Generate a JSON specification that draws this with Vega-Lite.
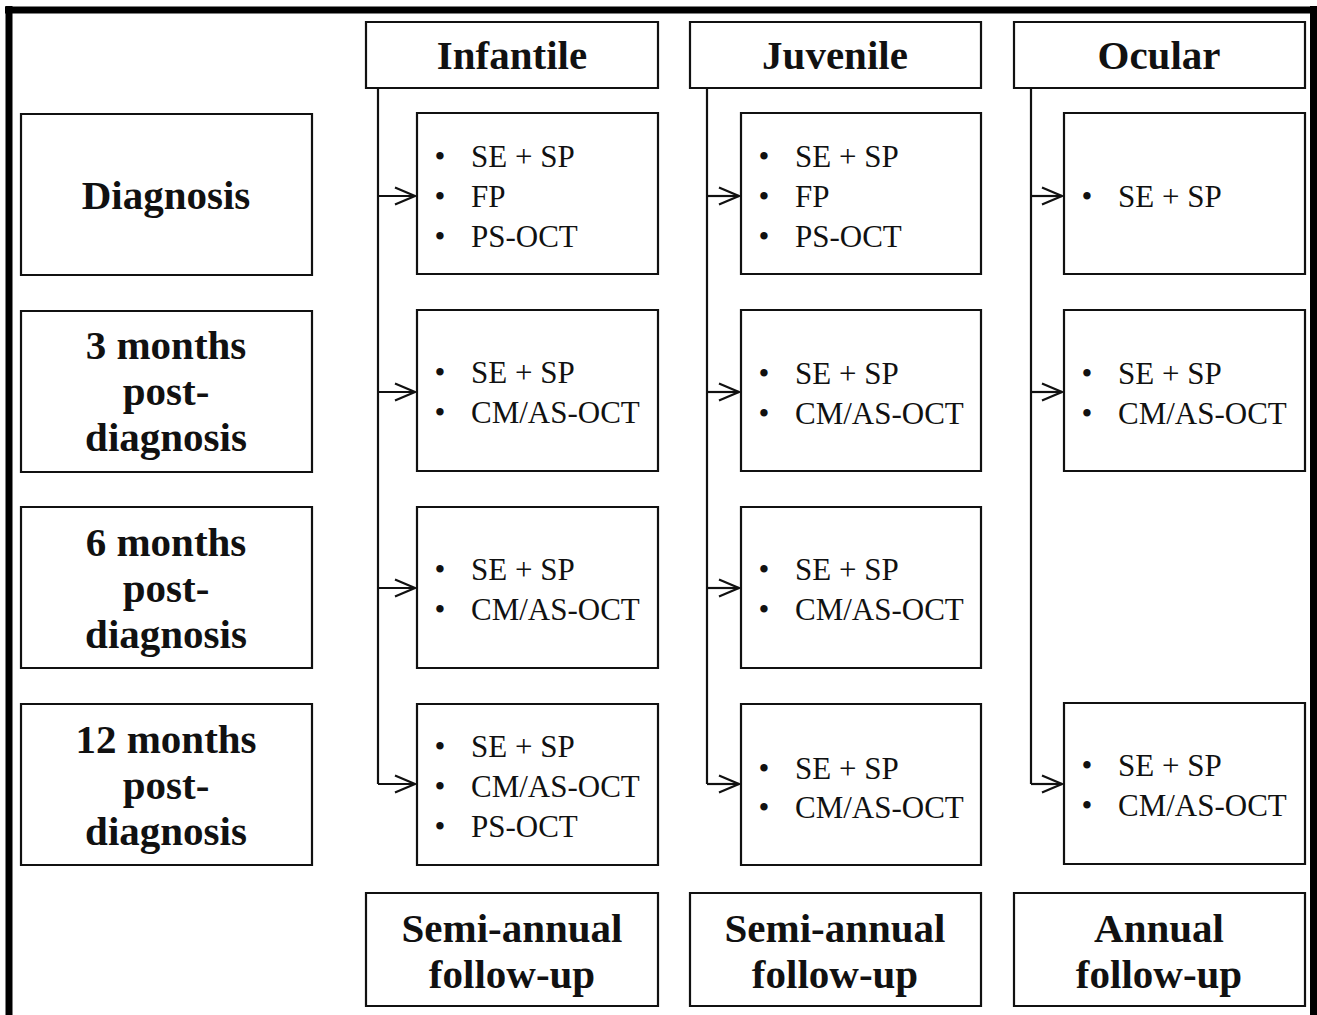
{
  "$schema": "https://vega.github.io/schema/vega-lite/v6.json",
  "width": 1317,
  "height": 1015,
  "autosize": "none",
  "padding": 0,
  "background": "white",
  "config": {"view": {"stroke": null}},
  "datasets": {
    "frame": [
      {"x": 9, "x2": 9, "y": 6, "y2": 1015},
      {"x": 5, "x2": 1317, "y": 10, "y2": 10},
      {"x": 1313.5, "x2": 1313.5, "y": 6, "y2": 1015}
    ],
    "boxes": [
      {"name": "Infantile header", "x": 366, "x2": 658, "y": 22, "y2": 88},
      {"name": "Juvenile header", "x": 690, "x2": 981, "y": 22, "y2": 88},
      {"name": "Ocular header", "x": 1014, "x2": 1305, "y": 22, "y2": 88},
      {"name": "Diagnosis", "x": 21, "x2": 312, "y": 114, "y2": 275},
      {"name": "3 months", "x": 21, "x2": 312, "y": 311, "y2": 472},
      {"name": "6 months", "x": 21, "x2": 312, "y": 507, "y2": 668},
      {"name": "12 months", "x": 21, "x2": 312, "y": 704, "y2": 865},
      {"name": "Infantile 1", "x": 417, "x2": 658, "y": 113, "y2": 274},
      {"name": "Infantile 2", "x": 417, "x2": 658, "y": 310, "y2": 471},
      {"name": "Infantile 3", "x": 417, "x2": 658, "y": 507, "y2": 668},
      {"name": "Infantile 4", "x": 417, "x2": 658, "y": 704, "y2": 865},
      {"name": "Juvenile 1", "x": 741, "x2": 981, "y": 113, "y2": 274},
      {"name": "Juvenile 2", "x": 741, "x2": 981, "y": 310, "y2": 471},
      {"name": "Juvenile 3", "x": 741, "x2": 981, "y": 507, "y2": 668},
      {"name": "Juvenile 4", "x": 741, "x2": 981, "y": 704, "y2": 865},
      {"name": "Ocular 1", "x": 1064, "x2": 1305, "y": 113, "y2": 274},
      {"name": "Ocular 2", "x": 1064, "x2": 1305, "y": 310, "y2": 471},
      {"name": "Ocular 4", "x": 1064, "x2": 1305, "y": 703, "y2": 864},
      {"name": "Infantile footer", "x": 366, "x2": 658, "y": 893, "y2": 1006},
      {"name": "Juvenile footer", "x": 690, "x2": 981, "y": 893, "y2": 1006},
      {"name": "Ocular footer", "x": 1014, "x2": 1305, "y": 893, "y2": 1006}
    ],
    "connectors": [
      {"x": 378, "x2": 378, "y": 88, "y2": 784},
      {"x": 707, "x2": 707, "y": 88, "y2": 784},
      {"x": 1031, "x2": 1031, "y": 88, "y2": 784},
      {"x": 378, "x2": 415, "y": 196, "y2": 196},
      {"x": 378, "x2": 415, "y": 392, "y2": 392},
      {"x": 378, "x2": 415, "y": 588, "y2": 588},
      {"x": 378, "x2": 415, "y": 784, "y2": 784},
      {"x": 707, "x2": 739, "y": 196, "y2": 196},
      {"x": 707, "x2": 739, "y": 392, "y2": 392},
      {"x": 707, "x2": 739, "y": 588, "y2": 588},
      {"x": 707, "x2": 739, "y": 784, "y2": 784},
      {"x": 1031, "x2": 1062, "y": 196, "y2": 196},
      {"x": 1031, "x2": 1062, "y": 392, "y2": 392},
      {"x": 1031, "x2": 1062, "y": 784, "y2": 784}
    ],
    "heads": [
      {"x": 415, "y": 196}, {"x": 415, "y": 392}, {"x": 415, "y": 588}, {"x": 415, "y": 784},
      {"x": 739, "y": 196}, {"x": 739, "y": 392}, {"x": 739, "y": 588}, {"x": 739, "y": 784},
      {"x": 1062, "y": 196}, {"x": 1062, "y": 392}, {"x": 1062, "y": 784}
    ],
    "titles": [
      {"label": "Infantile", "x": 512, "y": 57},
      {"label": "Juvenile", "x": 835, "y": 57},
      {"label": "Ocular", "x": 1159, "y": 57},
      {"label": "Diagnosis", "x": 166, "y": 197},
      {"label": "3 months\npost-\ndiagnosis", "x": 166, "y": 347},
      {"label": "6 months\npost-\ndiagnosis", "x": 166, "y": 544},
      {"label": "12 months\npost-\ndiagnosis", "x": 166, "y": 741},
      {"label": "Semi-annual\nfollow-up", "x": 512, "y": 930},
      {"label": "Semi-annual\nfollow-up", "x": 835, "y": 930},
      {"label": "Annual\nfollow-up", "x": 1159, "y": 930}
    ],
    "items": [
      {"item": "SE + SP", "x": 471, "y": 156},
      {"item": "FP", "x": 471, "y": 196},
      {"item": "PS-OCT", "x": 471, "y": 236},
      {"item": "SE + SP", "x": 471, "y": 372},
      {"item": "CM/AS-OCT", "x": 471, "y": 412},
      {"item": "SE + SP", "x": 471, "y": 569},
      {"item": "CM/AS-OCT", "x": 471, "y": 609},
      {"item": "SE + SP", "x": 471, "y": 746},
      {"item": "CM/AS-OCT", "x": 471, "y": 786},
      {"item": "PS-OCT", "x": 471, "y": 826},
      {"item": "SE + SP", "x": 795, "y": 156},
      {"item": "FP", "x": 795, "y": 196},
      {"item": "PS-OCT", "x": 795, "y": 236},
      {"item": "SE + SP", "x": 795, "y": 373},
      {"item": "CM/AS-OCT", "x": 795, "y": 413},
      {"item": "SE + SP", "x": 795, "y": 569},
      {"item": "CM/AS-OCT", "x": 795, "y": 609},
      {"item": "SE + SP", "x": 795, "y": 768},
      {"item": "CM/AS-OCT", "x": 795, "y": 807},
      {"item": "SE + SP", "x": 1118, "y": 196},
      {"item": "SE + SP", "x": 1118, "y": 373},
      {"item": "CM/AS-OCT", "x": 1118, "y": 413},
      {"item": "SE + SP", "x": 1118, "y": 765},
      {"item": "CM/AS-OCT", "x": 1118, "y": 805}
    ]
  },
  "encoding": {
    "x": {"field": "x", "type": "quantitative", "scale": {"domain": [0, 1317], "nice": false, "zero": false}, "axis": null},
    "y": {"field": "y", "type": "quantitative", "scale": {"domain": [0, 1015], "nice": false, "zero": false, "reverse": true}, "axis": null}
  },
  "layer": [
    {
      "data": {"name": "boxes"},
      "mark": {"type": "rect", "fill": "white", "stroke": "#111", "strokeWidth": 2.2},
      "encoding": {
        "x2": {"field": "x2"},
        "y2": {"field": "y2"}
      }
    },
    {
      "data": {"name": "connectors"},
      "mark": {"type": "rule", "stroke": "#111", "strokeWidth": 2.2},
      "encoding": {
        "x2": {"field": "x2"},
        "y2": {"field": "y2"}
      }
    },
    {
      "data": {"name": "heads"},
      "mark": {"type": "point", "shape": "M-2,-0.85L0,0L-2,0.85", "filled": false, "stroke": "#111", "strokeWidth": 2.2, "size": 400, "opacity": 1}
    },
    {
      "data": {"name": "frame"},
      "mark": {"type": "rule", "stroke": "black", "strokeWidth": 7},
      "encoding": {
        "x2": {"field": "x2"},
        "y2": {"field": "y2"}
      }
    },
    {
      "data": {"name": "titles"},
      "mark": {"type": "text", "font": "Liberation Serif", "fontWeight": "bold", "fontSize": 41, "align": "center", "baseline": "middle", "lineBreak": "\n", "lineHeight": 46, "color": "#111"},
      "encoding": {"text": {"field": "label"}}
    },
    {
      "data": {"name": "items"},
      "mark": {"type": "text", "font": "Liberation Serif", "fontSize": 31, "align": "left", "baseline": "middle", "dy": 2, "color": "#111"},
      "encoding": {"text": {"field": "item"}}
    },
    {
      "data": {"name": "items"},
      "mark": {"type": "text", "text": "•", "font": "Liberation Serif", "fontSize": 31, "align": "center", "baseline": "middle", "dx": -31, "dy": 2, "color": "#111"}
    }
  ]
}
